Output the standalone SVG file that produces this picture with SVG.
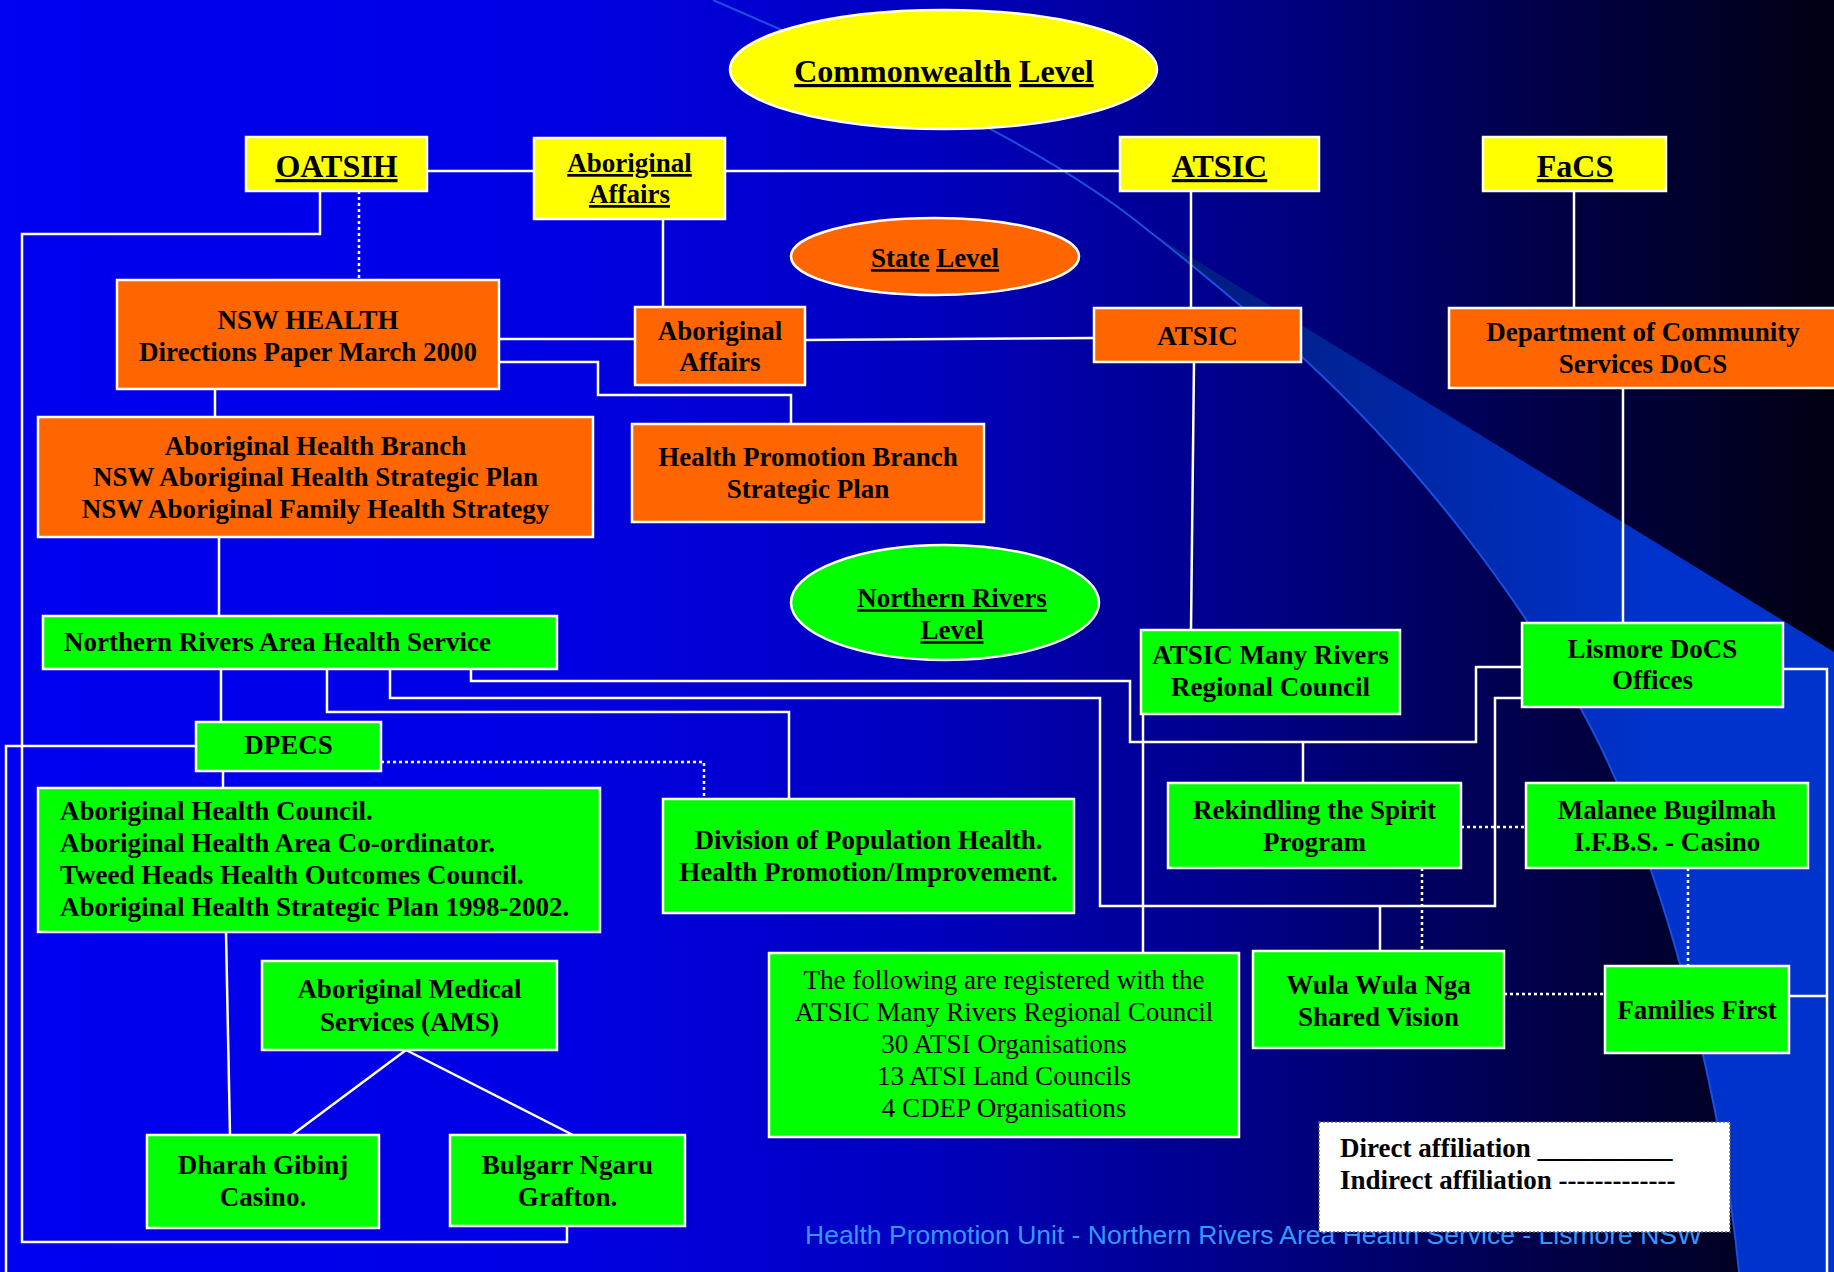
<svg xmlns="http://www.w3.org/2000/svg" width="1834" height="1272" viewBox="0 0 1834 1272">
<defs>
<linearGradient id="bg" x1="0" y1="0" x2="1834" y2="0" gradientUnits="userSpaceOnUse">
<stop offset="0" stop-color="#0000F2"/>
<stop offset="0.3" stop-color="#0000E4"/>
<stop offset="0.5" stop-color="#0000C0"/>
<stop offset="0.7" stop-color="#000080"/>
<stop offset="0.85" stop-color="#000045"/>
<stop offset="1" stop-color="#000012"/>
</linearGradient>
<linearGradient id="band" x1="1150" y1="0" x2="1650" y2="0" gradientUnits="userSpaceOnUse">
<stop offset="0" stop-color="#001A78"/>
<stop offset="1" stop-color="#0033CC"/>
</linearGradient>
<style>
.box{stroke:#fff;stroke-width:2.5}
.y{fill:#FFFF00}.o{fill:#FF6600}.g{fill:#00FF00}
.t{font-family:"Liberation Serif","Times New Roman",serif;font-weight:bold;font-size:27px;fill:#000;text-anchor:middle}
.l{text-anchor:start}
.n{font-weight:normal}
.big{font-size:32px}
.u{text-decoration:underline}
.c{fill:none;stroke:#fff;stroke-width:2.5}
.d{stroke-dasharray:3 3}
</style>
</defs>
<rect x="0" y="0" width="1834" height="1272" fill="url(#bg)"/>
<path d="M1150,232 L1834,652 L1834,1272 L1739,1272 C1722,1100 1665,860 1581,709 C1520,600 1425,470 1300,355 Z" fill="url(#band)"/>
<path d="M713,0 C850,60 1040,140 1150,232 C1200,270 1250,315 1300,355 C1425,470 1520,600 1581,709 C1665,860 1722,1100 1739,1272" fill="none" stroke="#1A4FE0" stroke-width="2"/>
<text x="805" y="1244" font-family="Liberation Sans, Arial, sans-serif" font-size="26" textLength="897" lengthAdjust="spacingAndGlyphs" fill="#3399FF">Health Promotion Unit - Northern Rivers Area Health Service - Lismore NSW</text>

<g id="connectors">
<path class="c" d="M427,171 H534"/>
<path class="c" d="M725,171 H1120"/>
<path class="c" d="M320,191 V234 H22 V1242 H567 V1226"/>
<path class="c d" d="M359,191 V280"/>
<path class="c" d="M663,219 V307"/>
<path class="c" d="M1191,191 V308"/>
<path class="c" d="M1574,191 V308"/>
<path class="c" d="M499,339 H635"/>
<path class="c" d="M805,340 L1094,338"/>
<path class="c" d="M499,362 H598 V395 H791 V424"/>
<path class="c" d="M215,389 V417"/>
<path class="c" d="M219,537 V616"/>
<path class="c" d="M1194,362 L1191,630"/>
<path class="c" d="M1623,388 V623"/>
<path class="c" d="M221,669 V722"/>
<path class="c" d="M327,669 V712 H789 V799"/>
<path class="c" d="M390,669 V698 H1100 V906 H1495 V698 H1522"/>
<path class="c" d="M471,669 V681 H1130 V742 H1476 V667 H1522"/>
<path class="c" d="M1303,742 V783"/>
<path class="c" d="M1380,906 V951"/>
<path class="c" d="M196,746 H6 V1272"/>
<path class="c d" d="M381,762 H704 V799"/>
<path class="c" d="M223,771 V788"/>
<path class="c" d="M226,932 L230,1135"/>
<path class="c" d="M1143,714 V953"/>
<path class="c" d="M1783,669 H1827 V1272"/>
<path class="c" d="M1827,996 H1789"/>
<path class="c d" d="M1461,827 H1526"/>
<path class="c d" d="M1422,868 V951"/>
<path class="c d" d="M1688,868 V966"/>
<path class="c d" d="M1504,994 H1605"/>
<path class="c" d="M406,1050 L292,1135"/>
<path class="c" d="M406,1050 L573,1135"/>
</g>

<g id="commonwealth-level">
<ellipse class="box y" cx="943.5" cy="69.5" rx="213.5" ry="59.5"/>
<text class="t big" x="944" y="82"><tspan class="u">Commonwealth</tspan> <tspan class="u">Level</tspan></text>
</g>
<g id="oatsih">
<rect class="box y" x="246" y="137" width="181" height="54"/>
<text class="t big" x="336.5" y="177"><tspan class="u">OATSIH</tspan></text>
</g>
<g id="aboriginal-affairs-cw">
<rect class="box y" x="534" y="138" width="191" height="81"/>
<text class="t" x="629.5" y="172"><tspan class="u">Aboriginal</tspan></text>
<text class="t" x="629.5" y="203"><tspan class="u">Affairs</tspan></text>
</g>
<g id="atsic-cw">
<rect class="box y" x="1120" y="137" width="199" height="54"/>
<text class="t big" x="1219.5" y="177"><tspan class="u">ATSIC</tspan></text>
</g>
<g id="facs">
<rect class="box y" x="1483" y="137" width="183" height="54"/>
<text class="t big" x="1575" y="177"><tspan class="u">FaCS</tspan></text>
</g>
<g id="state-level">
<ellipse class="box o" cx="935" cy="256.5" rx="144" ry="38.5"/>
<text class="t" x="935" y="267"><tspan class="u">State</tspan> <tspan class="u">Level</tspan></text>
</g>
<g id="nsw-health">
<rect class="box o" x="117" y="280" width="382" height="109"/>
<text class="t" x="308" y="329">NSW HEALTH</text>
<text class="t" x="308" y="361">Directions Paper March 2000</text>
</g>
<g id="aboriginal-affairs-state">
<rect class="box o" x="635" y="307" width="170" height="78"/>
<text class="t" x="720" y="340">Aboriginal</text>
<text class="t" x="720" y="371">Affairs</text>
</g>
<g id="atsic-state">
<rect class="box o" x="1094" y="308" width="207" height="54"/>
<text class="t" x="1197.5" y="345">ATSIC</text>
</g>
<g id="docs">
<rect class="box o" x="1449" y="308" width="392" height="80"/>
<text class="t" x="1643" y="341">Department of Community</text>
<text class="t" x="1643" y="373">Services DoCS</text>
</g>
<g id="health-promotion-branch">
<rect class="box o" x="632" y="424" width="352" height="98"/>
<text class="t" x="808" y="466">Health Promotion Branch</text>
<text class="t" x="808" y="498">Strategic Plan</text>
</g>
<g id="aboriginal-health-branch">
<rect class="box o" x="38" y="417" width="555" height="120"/>
<text class="t" x="315.5" y="455">Aboriginal Health Branch</text>
<text class="t" x="315.5" y="486">NSW Aboriginal Health Strategic Plan</text>
<text class="t" x="315.5" y="518">NSW Aboriginal Family Health Strategy</text>
</g>
<g id="northern-rivers-level">
<ellipse class="box g" cx="945" cy="602.5" rx="154" ry="57.5"/>
<text class="t" x="952" y="607"><tspan class="u">Northern Rivers</tspan></text>
<text class="t" x="952" y="639"><tspan class="u">Level</tspan></text>
</g>
<g id="nrahs">
<rect class="box g" x="43" y="616" width="514" height="53"/>
<text class="t l" x="64" y="651">Northern Rivers Area Health Service</text>
</g>
<g id="atsic-many-rivers">
<rect class="box g" x="1141" y="630" width="259" height="84"/>
<text class="t" x="1270.5" y="664">ATSIC Many Rivers</text>
<text class="t" x="1270.5" y="696">Regional Council</text>
</g>
<g id="lismore-docs">
<rect class="box g" x="1522" y="623" width="261" height="84"/>
<text class="t" x="1652.5" y="658">Lismore DoCS</text>
<text class="t" x="1652.5" y="689">Offices</text>
</g>
<g id="dpecs">
<rect class="box g" x="196" y="722" width="185" height="49"/>
<text class="t" x="288.5" y="754">DPECS</text>
</g>
<g id="aboriginal-health-council">
<rect class="box g" x="38" y="788" width="562" height="144"/>
<text class="t l" x="60" y="820">Aboriginal Health Council.</text>
<text class="t l" x="60" y="852">Aboriginal Health Area Co-ordinator.</text>
<text class="t l" x="60" y="884">Tweed Heads Health Outcomes Council.</text>
<text class="t l" x="60" y="916">Aboriginal Health Strategic Plan 1998-2002.</text>
</g>
<g id="division-population-health">
<rect class="box g" x="663" y="799" width="411" height="114"/>
<text class="t" x="868.5" y="849">Division of Population Health.</text>
<text class="t" x="868.5" y="881">Health Promotion/Improvement.</text>
</g>
<g id="rekindling">
<rect class="box g" x="1168" y="783" width="293" height="85"/>
<text class="t" x="1314.5" y="819">Rekindling the Spirit</text>
<text class="t" x="1314.5" y="851">Program</text>
</g>
<g id="malanee">
<rect class="box g" x="1526" y="783" width="282" height="85"/>
<text class="t" x="1667" y="819">Malanee Bugilmah</text>
<text class="t" x="1667" y="851">I.F.B.S. - Casino</text>
</g>
<g id="registered">
<rect class="box g" x="769" y="953" width="470" height="184"/>
<text class="t n" x="1004" y="989">The following are registered with the</text>
<text class="t n" x="1004" y="1021">ATSIC Many Rivers Regional Council</text>
<text class="t n" x="1004" y="1053">30 ATSI Organisations</text>
<text class="t n" x="1004" y="1085">13 ATSI Land Councils</text>
<text class="t n" x="1004" y="1117">4 CDEP Organisations</text>
</g>
<g id="wula-wula-nga">
<rect class="box g" x="1253" y="951" width="251" height="97"/>
<text class="t" x="1378.5" y="994">Wula Wula Nga</text>
<text class="t" x="1378.5" y="1026">Shared Vision</text>
</g>
<g id="families-first">
<rect class="box g" x="1605" y="966" width="184" height="87"/>
<text class="t" x="1697" y="1019">Families First</text>
</g>
<g id="ams">
<rect class="box g" x="262" y="961" width="295" height="89"/>
<text class="t" x="409.5" y="998">Aboriginal Medical</text>
<text class="t" x="409.5" y="1031">Services (AMS)</text>
</g>
<g id="dharah-gibinj">
<rect class="box g" x="147" y="1135" width="232" height="93"/>
<text class="t" x="263" y="1174">Dharah Gibinj</text>
<text class="t" x="263" y="1206">Casino.</text>
</g>
<g id="bulgarr-ngaru">
<rect class="box g" x="450" y="1135" width="235" height="91"/>
<text class="t" x="567.5" y="1174">Bulgarr Ngaru</text>
<text class="t" x="567.5" y="1206">Grafton.</text>
</g>
<g id="legend">
<rect x="1319" y="1122" width="411" height="110" fill="#fff" stroke="#666" stroke-width="1.5" stroke-dasharray="2 2"/>
<text class="t l" x="1340" y="1157">Direct affiliation __________</text>
<text class="t l" x="1340" y="1189">Indirect affiliation -------------</text>
</g>
</svg>
